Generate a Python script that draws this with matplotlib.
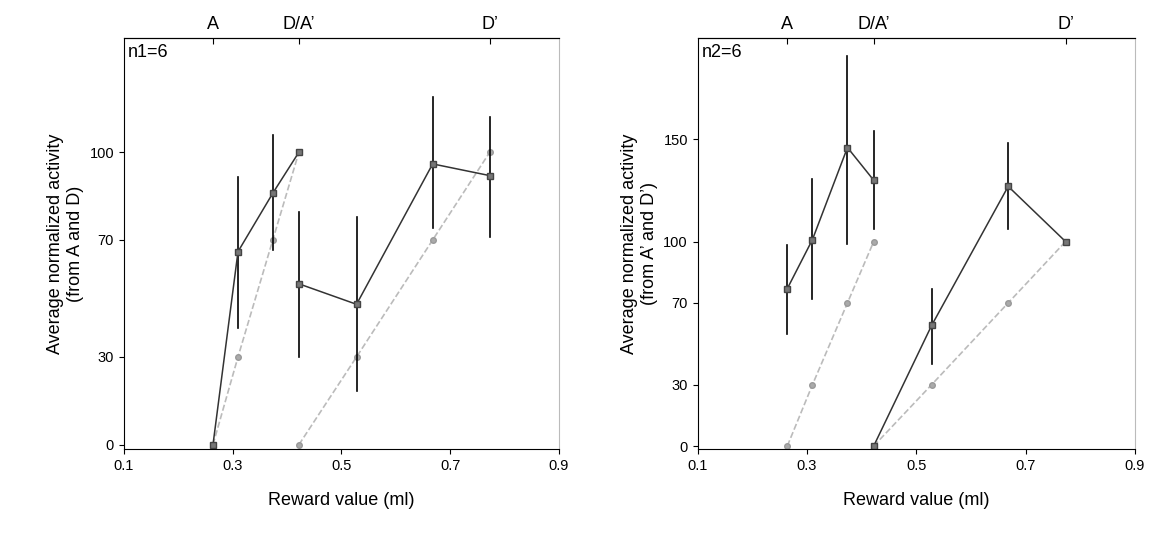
import matplotlib
matplotlib.use('Agg')
import matplotlib.pyplot as plt

# reward values (ml)
x_a = [0.264, 0.31, 0.374, 0.422]
x_d = [0.422, 0.528, 0.668, 0.773]

# panel 1 (n1=6)
p1_a = [0, 66, 86, 100]
p1_a_lo = [0, 40, 66.5, 100]
p1_a_hi = [0, 91.5, 106, 100]
p1_d = [55, 48, 96, 92]
p1_d_lo = [30, 18.4, 74, 71]
p1_d_hi = [79.5, 78, 119, 112]

# panel 2 (n2=6)
p2_a = [77, 101, 146, 130]
p2_a_lo = [55, 72, 99, 106]
p2_a_hi = [98.5, 130.6, 191, 154]
p2_d = [0, 59, 127, 100]
p2_d_lo = [0, 40, 106, 100]
p2_d_hi = [0, 76.7, 148, 100]

# predicted (dashed)
pred = [0, 30, 70, 100]

top_pos = [0.264, 0.422, 0.773]
top_lab = ['A', "D/A’", "D’"]

plt.rcParams['font.family'] = 'Liberation Sans'
fig = plt.figure(figsize=(11.57, 5.45), dpi=100)


def panel(rect, ya, ya_lo, ya_hi, yd, yd_lo, yd_hi, ymax, yticks, tag, ylab):
    ax = fig.add_axes(rect)
    for xs, ys in [(x_a, pred), (x_d, pred)]:
        ax.plot(xs, ys, ls='--', color='#bbbbbb', lw=1.2, marker='o', ms=4,
                mfc='#aaaaaa', mec='#999999')
    for xs, ys, lo, hi in [(x_a, ya, ya_lo, ya_hi), (x_d, yd, yd_lo, yd_hi)]:
        for x, l, h in zip(xs, lo, hi):
            if h > l:
                ax.plot([x, x], [l, h], color='black', lw=1.2)
        ax.plot(xs, ys, color='#333333', lw=1.1, marker='s', ms=5,
                mfc='#777777', mec='#444444')
    ax.set_xlim(0.1, 0.9)
    ax.set_ylim(-1.5, ymax)
    ax.set_xticks([0.1, 0.3, 0.5, 0.7, 0.9])
    ax.set_xticklabels(['0.1', '0.3', '0.5', '0.7', '0.9'])
    ax.set_yticks(yticks)
    ax.tick_params(labelsize=10.5, direction='out')
    ax.spines['right'].set_color('#bbbbbb')
    ax.set_xlabel('Reward value (ml)', fontsize=13, labelpad=14)
    ax.set_ylabel(ylab, fontsize=13)
    ax.text(0.01, 0.985, tag, transform=ax.transAxes, fontsize=13, va='top')
    sec = ax.secondary_xaxis('top')
    sec.set_xticks(top_pos)
    sec.set_xticklabels(top_lab, fontsize=13)
    sec.tick_params(direction='in', length=4)
    return ax


panel([0.107, 0.176, 0.376, 0.754], p1_a, p1_a_lo, p1_a_hi, p1_d, p1_d_lo,
      p1_d_hi, 139, [0, 30, 70, 100], 'n1=6',
      'Average normalized activity\n(from A and D)')
panel([0.603, 0.176, 0.378, 0.754], p2_a, p2_a_lo, p2_a_hi, p2_d, p2_d_lo,
      p2_d_hi, 199.5, [0, 30, 70, 100, 150], 'n2=6',
      'Average normalized activity\n(from A’ and D’)')

fig.savefig('out.png', dpi=100, facecolor='white')
